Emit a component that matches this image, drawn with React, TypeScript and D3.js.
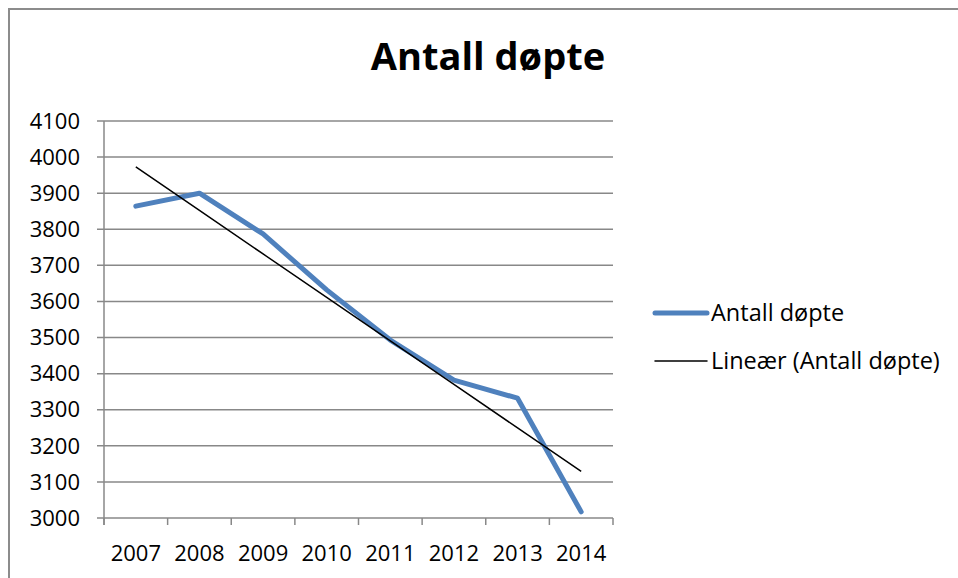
import { useEffect, useRef } from "react";
import * as d3 from "d3";

// Data
const years = ["2007", "2008", "2009", "2010", "2011", "2012", "2013", "2014"];
const baptized = [3864, 3900, 3787, 3632, 3493, 3382, 3332, 3017];
const yTicks = [3000, 3100, 3200, 3300, 3400, 3500, 3600, 3700, 3800, 3900, 4000, 4100];

const width = 958;
const height = 578;
const margin = { top: 121, right: 345, bottom: 60, left: 104 };
const font = "'Open Sans', Lato, sans-serif";

const drawChart = (node: SVGSVGElement) => {
    const svg = d3.select(node);
    svg.selectAll("*").remove();

    // outer frame (extends past the window at right and bottom)
    svg.append("rect")
        .attr("x", 9).attr("y", 9)
        .attr("width", 1100).attr("height", 800)
        .attr("fill", "white")
        .attr("stroke", "#8c8c8c")
        .attr("stroke-width", 2);

    const x = d3.scaleBand()
        .domain(years)
        .range([margin.left, width - margin.right]);

    const y = d3.scaleLinear()
        .domain([3000, 4100])
        .range([height - margin.bottom, margin.top]);

    // gridlines
    svg.append("g")
        .selectAll("line")
        .data(yTicks)
        .join("line")
        .attr("x1", margin.left - 7)
        .attr("x2", width - margin.right)
        .attr("y1", d => y(d))
        .attr("y2", d => y(d))
        .attr("stroke", "#888")
        .attr("stroke-width", 1.5);

    // y axis line
    svg.append("line")
        .attr("x1", margin.left).attr("x2", margin.left)
        .attr("y1", y(4100)).attr("y2", y(3000) + 7)
        .attr("stroke", "#888").attr("stroke-width", 1.5);

    // x tick marks
    const xTickPos = years.map(d => x(d) as number).concat([width - margin.right]);
    svg.append("g")
        .selectAll("line")
        .data(xTickPos)
        .join("line")
        .attr("x1", d => d).attr("x2", d => d)
        .attr("y1", y(3000)).attr("y2", y(3000) + 7)
        .attr("stroke", "#888").attr("stroke-width", 1.5);

    // y labels
    svg.append("g")
        .selectAll("text")
        .data(yTicks)
        .join("text")
        .attr("x", 80)
        .attr("y", d => y(d))
        .attr("dy", "0.35em")
        .attr("text-anchor", "end")
        .attr("font-family", font)
        .attr("font-size", 22)
        .text(d => d);

    // x labels
    svg.append("g")
        .selectAll("text")
        .data(years)
        .join("text")
        .attr("x", d => (x(d) as number) + x.bandwidth() / 2)
        .attr("y", 561)
        .attr("text-anchor", "middle")
        .attr("font-family", font)
        .attr("font-size", 22)
        .text(d => d);

    // linear trend (least squares)
    const idx = years.map((_, i) => i);
    const mx = d3.mean(idx) as number;
    const my = d3.mean(baptized) as number;
    const slope = d3.sum(idx, i => (i - mx) * (baptized[i] - my)) / d3.sum(idx, i => (i - mx) ** 2);
    const trend = idx.map(i => my + slope * (i - mx));

    const line = d3.line<number>()
        .x((_, i) => (x(years[i]) as number) + x.bandwidth() / 2)
        .y(d => y(d));

    svg.append("path")
        .attr("d", line(baptized))
        .attr("fill", "none")
        .attr("stroke", "#4f81bd")
        .attr("stroke-width", 5)
        .attr("stroke-linecap", "round")
        .attr("stroke-linejoin", "round");

    svg.append("path")
        .attr("d", line(trend))
        .attr("fill", "none")
        .attr("stroke", "black")
        .attr("stroke-width", 1.5);

    // title
    svg.append("text")
        .attr("x", 488)
        .attr("y", 70)
        .attr("text-anchor", "middle")
        .attr("font-family", font)
        .attr("font-weight", "bold")
        .attr("font-size", 38)
        .text("Antall døpte");

    // legend
    const legend = svg.append("g");
    const items = [
        { label: "Antall døpte", color: "#4f81bd", w: 5, y: 313 },
        { label: "Lineær (Antall døpte)", color: "black", w: 1.5, y: 361 },
    ];
    legend.selectAll("line")
        .data(items)
        .join("line")
        .attr("x1", 655).attr("x2", 707)
        .attr("y1", d => d.y).attr("y2", d => d.y)
        .attr("stroke", d => d.color)
        .attr("stroke-width", d => d.w)
        .attr("stroke-linecap", "round");
    legend.selectAll("text")
        .data(items)
        .join("text")
        .attr("x", 711)
        .attr("y", d => d.y)
        .attr("dy", "0.35em")
        .attr("font-family", font)
        .attr("font-size", 23.5)
        .text(d => d.label);
};

export default function App() {
    const ref = useRef<SVGSVGElement>(null);

    useEffect(() => {
        if (ref.current) drawChart(ref.current);
    }, []);

    return (
        <svg
            ref={ref}
            width={width}
            height={height}
            style={{ position: "absolute", left: 0, top: 0, background: "white" }}
        />
    );
}
